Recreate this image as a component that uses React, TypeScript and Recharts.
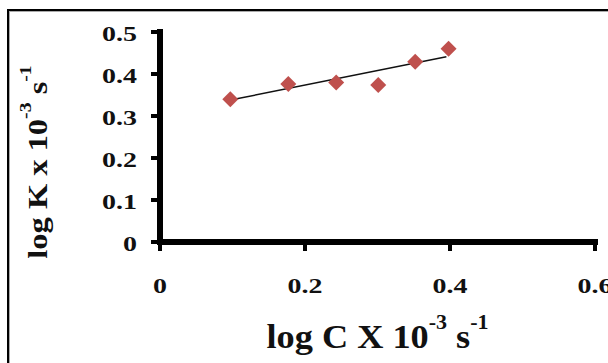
import { Label, Scatter, ScatterChart, XAxis, YAxis } from "recharts";

const logC = [0.097, 0.177, 0.243, 0.301, 0.352, 0.398];
const logK = [0.34, 0.376, 0.38, 0.374, 0.429, 0.46];
const trendC = [0.097, 0.395];
const trendK = [0.338, 0.441];
const xTicks = [0, 0.2, 0.4, 0.6];
const yTicks = [0, 0.1, 0.2, 0.3, 0.4, 0.5];

const points = logC.map((c, i) => ({ c, k: logK[i] }));
const trend = trendC.map((c, i) => ({ c, k: trendK[i] }));

const FONT = "Liberation Serif, Times New Roman, serif";
const MARKER = "#bf504d";

function Diamond({ cx, cy }: any) {
  const r = 8;
  return (
    <polygon
      points={`${cx},${cy - r} ${cx + r},${cy} ${cx},${cy + r} ${cx - r},${cy}`}
      fill={MARKER}
    />
  );
}

function TickText({ x, y, payload, textAnchor, shift }: any) {
  return (
    <g transform={`translate(${x},${y + (shift || 0)}) scale(1.27,1)`}>
      <text
        x={0}
        y={0}
        textAnchor={textAnchor}
        fontFamily={FONT}
        fontWeight="bold"
        fontSize={22}
        fill="#111"
      >
        {payload.value}
      </text>
    </g>
  );
}

function XTitle({ viewBox }: any) {
  const cx = viewBox.x + viewBox.width / 2;
  return (
    <g transform={`translate(${cx},348) scale(1.1,1)`}>
      <text textAnchor="middle" fontFamily={FONT} fontWeight="bold" fontSize={33} fill="#111">
        log C X 10
        <tspan fontSize={20} dy={-19}>-3</tspan>
        <tspan dy={19}> s</tspan>
        <tspan fontSize={20} dy={-19}>-1</tspan>
      </text>
    </g>
  );
}

function YTitle() {
  return (
    <g transform="translate(47,162) rotate(-90) scale(1.16,1)">
      <text textAnchor="middle" fontFamily={FONT} fontWeight="bold" fontSize={28} fill="#111">
        log K x 10
        <tspan fontSize={17} dy={-16}>-3</tspan>
        <tspan dy={16}> s</tspan>
        <tspan fontSize={17} dy={-16}>-1</tspan>
      </text>
    </g>
  );
}

export default function App() {
  return (
    <div
      style={{
        position: "absolute",
        left: 0,
        top: 0,
        width: 608,
        height: 363,
        background: "#fff",
        overflow: "hidden",
      }}
    >
      <div
        style={{
          position: "absolute",
          left: 7,
          top: 9,
          width: 620,
          height: 380,
          borderTop: "2px solid #000",
          borderLeft: "2px solid #000",
          boxShadow: "inset 1px 1px 0 #aaa",
        }}
      />
      <ScatterChart
        width={608}
        height={363}
        margin={{ top: 32, right: 13, left: 100, bottom: 61 }}
        style={{ position: "absolute", left: 0, top: 0 }}
      >
        <XAxis
          type="number"
          dataKey="c"
          domain={[0, 0.6]}
          ticks={xTicks}
          height={60}
          stroke="#000"
          axisLine={{ stroke: "#000", strokeWidth: 6, strokeLinecap: "square" }}
          tickLine={{ stroke: "#000", strokeWidth: 4 }}
          tickSize={9}
          tickMargin={42}
          tick={<TickText />}
        >
          <Label content={<XTitle />} />
        </XAxis>
        <YAxis
          type="number"
          dataKey="k"
          domain={[0, 0.5]}
          ticks={yTicks}
          width={60}
          stroke="#000"
          axisLine={{ stroke: "#000", strokeWidth: 6, strokeLinecap: "square" }}
          tickLine={{ stroke: "#000", strokeWidth: 4 }}
          tickSize={9}
          tickMargin={14}
          tick={<TickText shift={8.5} />}
        >
          <Label content={<YTitle />} />
        </YAxis>
        <Scatter
          data={trend}
          line={{ stroke: "#111", strokeWidth: 1.5 }}
          shape={() => null}
          isAnimationActive={false}
        />
        <Scatter data={points} shape={<Diamond />} isAnimationActive={false} />
      </ScatterChart>
    </div>
  );
}
